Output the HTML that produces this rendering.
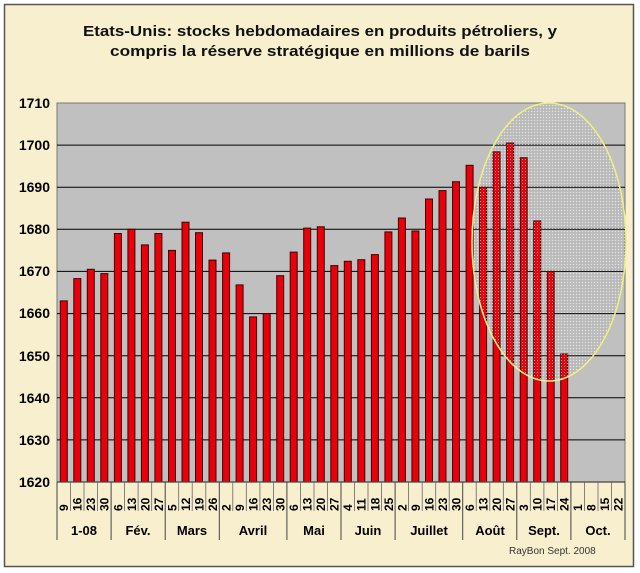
<!DOCTYPE html>
<html><head><meta charset="utf-8"><style>
html,body{margin:0;padding:0;background:#fff;}
svg{display:block;font-family:"Liberation Sans",Arial,sans-serif;}
</style></head><body>
<svg width="640" height="573" viewBox="0 0 640 573" xmlns="http://www.w3.org/2000/svg">
<defs>
<pattern id="dots" width="3" height="3" patternUnits="userSpaceOnUse">
<rect width="3" height="3" fill="none"/>
<rect x="0" y="0" width="1" height="1" fill="#ffffff" opacity="0.55"/>
<rect x="1.5" y="1.5" width="1" height="1" fill="#777" opacity="0.4"/>
</pattern>
</defs>
<rect x="0" y="0" width="640" height="573" fill="#fff"/>
<rect x="4.5" y="4.5" width="629" height="562" fill="#f8efcf" stroke="#555" stroke-width="1.5"/>
<text x="320" y="36" text-anchor="middle" font-size="15" font-weight="bold" fill="#111" textLength="474" lengthAdjust="spacingAndGlyphs">Etats-Unis: stocks hebdomadaires en produits pétroliers, y</text>
<text x="320" y="56" text-anchor="middle" font-size="15" font-weight="bold" fill="#111" textLength="420" lengthAdjust="spacingAndGlyphs">compris la réserve stratégique  en millions de barils</text>
<rect x="57" y="103" width="568" height="379" fill="#c0c0c0" stroke="#777" stroke-width="1"/>
<g stroke="#000" stroke-width="1">
<line x1="57" y1="145.1" x2="625" y2="145.1"/>
<line x1="57" y1="187.2" x2="625" y2="187.2"/>
<line x1="57" y1="229.3" x2="625" y2="229.3"/>
<line x1="57" y1="271.4" x2="625" y2="271.4"/>
<line x1="57" y1="313.6" x2="625" y2="313.6"/>
<line x1="57" y1="355.7" x2="625" y2="355.7"/>
<line x1="57" y1="397.8" x2="625" y2="397.8"/>
<line x1="57" y1="439.9" x2="625" y2="439.9"/>
</g>
<g font-size="14" font-weight="bold" fill="#000" text-anchor="end">
<text x="50" y="108">1710</text><text x="50" y="150">1700</text><text x="50" y="192">1690</text>
<text x="50" y="234">1680</text><text x="50" y="276">1670</text><text x="50" y="318">1660</text>
<text x="50" y="361">1650</text><text x="50" y="403">1640</text><text x="50" y="445">1630</text>
<text x="50" y="487">1620</text>
</g>
<g fill="#e8000a" stroke="#400" stroke-width="1">
<rect x="60.3" y="300.9" width="7" height="181.1"/>
<rect x="73.8" y="278.6" width="7" height="203.4"/>
<rect x="87.3" y="269.3" width="7" height="212.7"/>
<rect x="100.8" y="273.6" width="7" height="208.4"/>
<rect x="114.4" y="233.5" width="7" height="248.5"/>
<rect x="127.9" y="229.3" width="7" height="252.7"/>
<rect x="141.4" y="244.9" width="7" height="237.1"/>
<rect x="154.9" y="233.5" width="7" height="248.5"/>
<rect x="168.5" y="250.4" width="7" height="231.6"/>
<rect x="182.0" y="222.2" width="7" height="259.8"/>
<rect x="195.5" y="232.7" width="7" height="249.3"/>
<rect x="209.0" y="260.1" width="7" height="221.9"/>
<rect x="222.6" y="252.9" width="7" height="229.1"/>
<rect x="236.1" y="284.9" width="7" height="197.1"/>
<rect x="249.6" y="316.9" width="7" height="165.1"/>
<rect x="263.2" y="313.6" width="7" height="168.4"/>
<rect x="276.7" y="275.7" width="7" height="206.3"/>
<rect x="290.2" y="252.1" width="7" height="229.9"/>
<rect x="303.7" y="228.1" width="7" height="253.9"/>
<rect x="317.3" y="226.8" width="7" height="255.2"/>
<rect x="330.8" y="265.6" width="7" height="216.4"/>
<rect x="344.3" y="261.3" width="7" height="220.7"/>
<rect x="357.8" y="259.7" width="7" height="222.3"/>
<rect x="371.4" y="254.6" width="7" height="227.4"/>
<rect x="384.9" y="231.9" width="7" height="250.1"/>
<rect x="398.4" y="218.0" width="7" height="264.0"/>
<rect x="411.9" y="231.0" width="7" height="251.0"/>
<rect x="425.5" y="199.0" width="7" height="283.0"/>
<rect x="439.0" y="190.6" width="7" height="291.4"/>
<rect x="452.5" y="181.7" width="7" height="300.3"/>
<rect x="466.1" y="165.3" width="7" height="316.7"/>
<rect x="479.6" y="187.2" width="7" height="294.8"/>
<rect x="493.1" y="151.8" width="7" height="330.2"/>
<rect x="506.6" y="143.0" width="7" height="339.0"/>
<rect x="520.2" y="157.7" width="7" height="324.3"/>
<rect x="533.7" y="220.9" width="7" height="261.1"/>
<rect x="547.2" y="271.4" width="7" height="210.6"/>
<rect x="560.7" y="354.0" width="7" height="128.0"/>
</g>
<ellipse cx="549" cy="242" rx="77" ry="139" fill="url(#dots)" stroke="#f0f080" stroke-width="1.5"/>
<line x1="57" y1="482" x2="625" y2="482" stroke="#444" stroke-width="1.2"/>
<g stroke="#666" stroke-width="0.8">
<line x1="70.5" y1="482" x2="70.5" y2="511"/><line x1="84.0" y1="482" x2="84.0" y2="511"/><line x1="97.6" y1="482" x2="97.6" y2="511"/>
<line x1="124.6" y1="482" x2="124.6" y2="511"/><line x1="138.1" y1="482" x2="138.1" y2="511"/><line x1="151.7" y1="482" x2="151.7" y2="511"/>
<line x1="178.7" y1="482" x2="178.7" y2="511"/><line x1="192.2" y1="482" x2="192.2" y2="511"/><line x1="205.8" y1="482" x2="205.8" y2="511"/>
<line x1="232.8" y1="482" x2="232.8" y2="511"/><line x1="246.3" y1="482" x2="246.3" y2="511"/><line x1="259.9" y1="482" x2="259.9" y2="511"/><line x1="273.4" y1="482" x2="273.4" y2="511"/>
<line x1="300.4" y1="482" x2="300.4" y2="511"/><line x1="314.0" y1="482" x2="314.0" y2="511"/><line x1="327.5" y1="482" x2="327.5" y2="511"/>
<line x1="354.5" y1="482" x2="354.5" y2="511"/><line x1="368.0" y1="482" x2="368.0" y2="511"/><line x1="381.6" y1="482" x2="381.6" y2="511"/>
<line x1="408.6" y1="482" x2="408.6" y2="511"/><line x1="422.2" y1="482" x2="422.2" y2="511"/><line x1="435.7" y1="482" x2="435.7" y2="511"/><line x1="449.2" y1="482" x2="449.2" y2="511"/>
<line x1="476.2" y1="482" x2="476.2" y2="511"/><line x1="489.8" y1="482" x2="489.8" y2="511"/><line x1="503.3" y1="482" x2="503.3" y2="511"/>
<line x1="530.3" y1="482" x2="530.3" y2="511"/><line x1="543.9" y1="482" x2="543.9" y2="511"/><line x1="557.4" y1="482" x2="557.4" y2="511"/>
<line x1="584.4" y1="482" x2="584.4" y2="511"/><line x1="598.0" y1="482" x2="598.0" y2="511"/><line x1="611.5" y1="482" x2="611.5" y2="511"/>
</g>
<g stroke="#444" stroke-width="1">
<line x1="57" y1="482" x2="57" y2="540"/><line x1="111.1" y1="482" x2="111.1" y2="540"/>
<line x1="165.2" y1="482" x2="165.2" y2="540"/><line x1="219.3" y1="482" x2="219.3" y2="540"/>
<line x1="286.9" y1="482" x2="286.9" y2="540"/><line x1="341.0" y1="482" x2="341.0" y2="540"/>
<line x1="395.1" y1="482" x2="395.1" y2="540"/><line x1="462.7" y1="482" x2="462.7" y2="540"/>
<line x1="516.8" y1="482" x2="516.8" y2="540"/><line x1="570.9" y1="482" x2="570.9" y2="540"/>
<line x1="625" y1="482" x2="625" y2="540"/>
</g>
<g font-size="12" font-weight="bold" fill="#000">
<text transform="translate(68.2,511) rotate(-90)">9</text>
<text transform="translate(81.7,511) rotate(-90)">16</text>
<text transform="translate(95.2,511) rotate(-90)">23</text>
<text transform="translate(108.7,511) rotate(-90)">30</text>
<text transform="translate(122.3,511) rotate(-90)">6</text>
<text transform="translate(135.8,511) rotate(-90)">13</text>
<text transform="translate(149.3,511) rotate(-90)">20</text>
<text transform="translate(162.8,511) rotate(-90)">27</text>
<text transform="translate(176.4,511) rotate(-90)">5</text>
<text transform="translate(189.9,511) rotate(-90)">12</text>
<text transform="translate(203.4,511) rotate(-90)">19</text>
<text transform="translate(216.9,511) rotate(-90)">26</text>
<text transform="translate(230.5,511) rotate(-90)">2</text>
<text transform="translate(244.0,511) rotate(-90)">9</text>
<text transform="translate(257.5,511) rotate(-90)">16</text>
<text transform="translate(271.1,511) rotate(-90)">23</text>
<text transform="translate(284.6,511) rotate(-90)">30</text>
<text transform="translate(298.1,511) rotate(-90)">6</text>
<text transform="translate(311.6,511) rotate(-90)">13</text>
<text transform="translate(325.2,511) rotate(-90)">20</text>
<text transform="translate(338.7,511) rotate(-90)">27</text>
<text transform="translate(352.2,511) rotate(-90)">4</text>
<text transform="translate(365.7,511) rotate(-90)">11</text>
<text transform="translate(379.3,511) rotate(-90)">18</text>
<text transform="translate(392.8,511) rotate(-90)">25</text>
<text transform="translate(406.3,511) rotate(-90)">2</text>
<text transform="translate(419.8,511) rotate(-90)">9</text>
<text transform="translate(433.4,511) rotate(-90)">16</text>
<text transform="translate(446.9,511) rotate(-90)">23</text>
<text transform="translate(460.4,511) rotate(-90)">30</text>
<text transform="translate(474.0,511) rotate(-90)">6</text>
<text transform="translate(487.5,511) rotate(-90)">13</text>
<text transform="translate(501.0,511) rotate(-90)">20</text>
<text transform="translate(514.5,511) rotate(-90)">27</text>
<text transform="translate(528.1,511) rotate(-90)">3</text>
<text transform="translate(541.6,511) rotate(-90)">10</text>
<text transform="translate(555.1,511) rotate(-90)">17</text>
<text transform="translate(568.6,511) rotate(-90)">24</text>
<text transform="translate(582.2,511) rotate(-90)">1</text>
<text transform="translate(595.7,511) rotate(-90)">8</text>
<text transform="translate(609.2,511) rotate(-90)">15</text>
<text transform="translate(622.7,511) rotate(-90)">22</text>
</g>
<g font-size="13" font-weight="bold" fill="#000" text-anchor="middle">
<text x="84" y="535">1-08</text><text x="138" y="535">Fév.</text><text x="192" y="535">Mars</text>
<text x="253" y="535">Avril</text><text x="314" y="535">Mai</text><text x="368" y="535">Juin</text>
<text x="429" y="535">Juillet</text><text x="490" y="535">Août</text><text x="544" y="535">Sept.</text>
<text x="598" y="535">Oct.</text>
</g>
<text x="509" y="554" font-size="10" fill="#333">RayBon Sept. 2008</text>
</svg>
</body></html>
